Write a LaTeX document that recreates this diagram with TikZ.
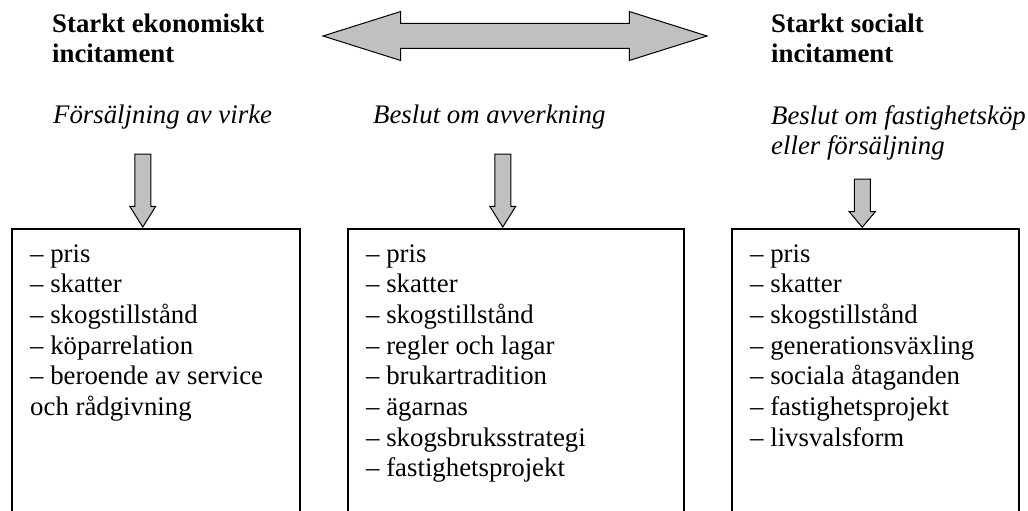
\documentclass[tikz,border=0pt]{standalone}
\usepackage{fontspec}
\setmainfont{Liberation Serif}
\usetikzlibrary{shapes.arrows}

\definecolor{arrowgray}{RGB}{192,192,192}

\tikzset{
  listbox/.style={draw,line width=1.5pt,inner sep=0pt,anchor=north west,minimum height=320pt},
  items/.style={anchor=base west,align=left,inner sep=0pt,font=\fontsize{26.8}{30.7}\selectfont},
  heading/.style={anchor=base west,align=left,inner sep=0pt,font=\fontsize{26.8}{30}\selectfont\bfseries},
  decision/.style={anchor=base west,align=left,inner sep=0pt,font=\fontsize{26.8}{30}\selectfont\itshape},
  downarrow/.style={single arrow,draw,fill=arrowgray,line width=1pt,inner sep=0pt,rotate=-90,anchor=tip,
    text height=15pt,text depth=0pt,single arrow head extend=5pt,single arrow tip angle=64},
}

\begin{document}
\begin{tikzpicture}[x=1pt,y=-1pt]

  \useasboundingbox (0,0) rectangle (1028,511);
  \clip (0,0) rectangle (1028,511);

  % top row (base anchor sits on the last line)
  \node[heading] at (52,63) (H1) {Starkt ekonomiskt\\incitament};
  \node[heading] at (771,63) (H3) {Starkt socialt\\incitament};
  \node[double arrow,draw,fill=arrowgray,line width=1pt,inner sep=0pt,
    text height=24pt,text depth=0pt,minimum height=384pt,
    double arrow head extend=12pt,double arrow tip angle=35] at (515,36) (incentive) {};

  \node[decision] at (53,123) (D1) {Försäljning av virke};
  \node[decision] at (373,123) (D2) {Beslut om avverkning};
  \node[decision] at (771,154) (D3) {Beslut om fastighetsköp\\eller försäljning};

  % boxes
  \node[listbox,minimum width=288pt] at (11,228) (B1) {};
  \node[listbox,minimum width=336pt] at (347,228) (B2) {};
  \node[listbox,minimum width=287pt] at (731,228) (B3) {};

  \node[items] at (30,415.5) (L1) {-- pris\\-- skatter\\-- skogstillstånd\\-- köparrelation\\-- beroende av service\\och rådgivning};
  \node[items] at (366,476.9) (L2) {-- pris\\-- skatter\\-- skogstillstånd\\-- regler och lagar\\-- brukartradition\\-- ägarnas\\-- skogsbruksstrategi\\-- fastighetsprojekt};
  \node[items] at (750,446.2) (L3) {-- pris\\-- skatter\\-- skogstillstånd\\-- generationsväxling\\-- sociala åtaganden\\-- fastighetsprojekt\\-- livsvalsform};

  % arrows into the boxes
  \node[downarrow,minimum height=73pt] at ([xshift=-13pt]B1.north) (A1) {};
  \node[downarrow,minimum height=73pt] at ([xshift=-13pt]B2.north) (A2) {};
  \node[downarrow,minimum height=48pt,single arrow tip angle=80] at ([xshift=-13pt]B3.north) (A3) {};

\end{tikzpicture}
\end{document}
